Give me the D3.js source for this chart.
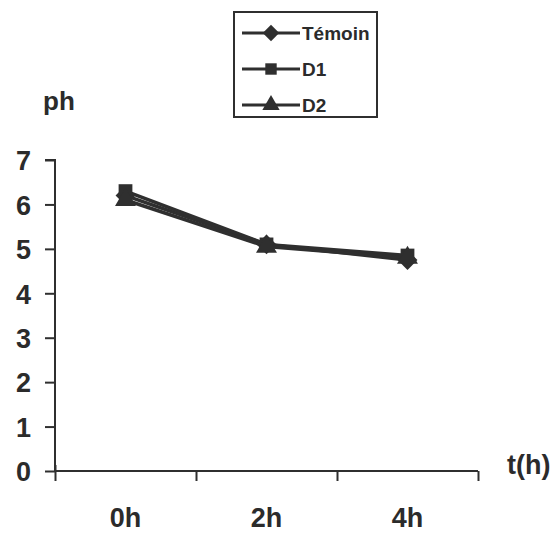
<!DOCTYPE html>
<html><head><meta charset="utf-8">
<script src="https://cdn.jsdelivr.net/npm/d3@7"></script>
<style>body{margin:0;background:#fff}svg{display:block}text{font-family:Arial,"Liberation Sans",sans-serif;font-weight:bold;fill:#2b2b2b}</style>
</head><body>
<script>
const categories = ["0h","2h","4h"];
const temoin = [6.2, 5.1, 4.75];
const d1 = [6.3, 5.1, 4.85];
const d2 = [6.1, 5.05, 4.8];
const yTicks = [0,1,2,3,4,5,6,7];
const seriesNames = ["Témoin","D1","D2"];
const wideDiamond = {draw(ctx, size) { const r = Math.sqrt(size) * 0.72; ctx.moveTo(0,-r); ctx.lineTo(r,0); ctx.lineTo(0,r); ctx.lineTo(-r,0); ctx.closePath(); }};
const series = [
  {name: seriesNames[0], values: temoin, shape: wideDiamond},
  {name: seriesNames[1], values: d1, shape: d3.symbolSquare},
  {name: seriesNames[2], values: d2, shape: d3.symbolTriangle}
];
const W = 560, H = 535, col = "#2f2f2f";
const svg = d3.select("body").append("svg").attr("width", W).attr("height", H);
const x = d3.scaleBand().domain(categories).range([55, 478]).padding(0);
const xb = d3.scaleLinear().domain([0, 3]).range([55, 478]);
const y = d3.scaleLinear().domain([0, 7]).range([471, 160]);

// y axis
const ya = svg.append("g").attr("transform", "translate(55,0)")
  .call(d3.axisLeft(y).tickValues(yTicks).tickSize(10).tickPadding(14).tickFormat(d3.format("d")));
ya.select(".domain").attr("stroke", col).attr("stroke-width", 2).attr("d", `M-10,${y(7)}H0V${y(0)}`);
ya.selectAll(".tick line").attr("stroke", col).attr("stroke-width", 2);
ya.selectAll(".tick text").style("font-size", "27px").attr("dy", "0.36em").attr("fill", col);

// x axis boundaries
const xa = svg.append("g").attr("transform", `translate(0,${y(0)})`)
  .call(d3.axisBottom(xb).tickValues([0,1,2,3]).tickSize(10).tickFormat(""));
xa.select(".domain").attr("stroke", col).attr("stroke-width", 2).attr("d", `M${xb(0)},0H${xb(3)}`);
xa.selectAll(".tick line").attr("stroke", col).attr("stroke-width", 2);
xa.selectAll(".tick").filter(d => d === 0).select("line").attr("y1", -6).attr("y2", 10);
// x labels
const xl = svg.append("g").attr("transform", `translate(0,${y(0)})`)
  .call(d3.axisBottom(x).tickSize(0).tickPadding(37));
xl.select(".domain").remove();
xl.selectAll(".tick text").style("font-size", "27px").attr("fill", col);

// axis titles
svg.append("text").attr("x", 43).attr("y", 110).style("font-size", "26px").text("ph");
svg.append("text").attr("x", 507).attr("y", 474).style("font-size", "27px").text("t(h)");

// lines
const line = d3.line().x((d, i) => x(categories[i]) + x.bandwidth() / 2).y(d => y(d));
series.forEach(s => {
  svg.append("path").datum(s.values).attr("d", line)
    .attr("fill", "none").attr("stroke", col).attr("stroke-width", 3.5);
});
series.forEach(s => {
  svg.append("g").selectAll("path").data(s.values).join("path")
    .attr("transform", (d, i) => `translate(${x(categories[i]) + x.bandwidth() / 2},${y(d)})`)
    .attr("d", d3.symbol().type(s.shape).size(190)).attr("fill", col);
});

// legend
const lg = svg.append("g");
lg.append("rect").attr("x", 234).attr("y", 12).attr("width", 143).attr("height", 105)
  .attr("fill", "#fff").attr("stroke", col).attr("stroke-width", 2);
series.forEach((s, i) => {
  const cy = 33 + i * 36;
  lg.append("line").attr("x1", 242).attr("x2", 300).attr("y1", cy).attr("y2", cy)
    .attr("stroke", col).attr("stroke-width", 3);
  lg.append("path").attr("transform", `translate(271,${cy})`)
    .attr("d", d3.symbol().type(s.shape).size(130)).attr("fill", col);
  lg.append("text").attr("x", 302).attr("y", cy).attr("dy", "0.35em")
    .style("font-size", "19px").text(s.name);
});
</script>
</body></html>
